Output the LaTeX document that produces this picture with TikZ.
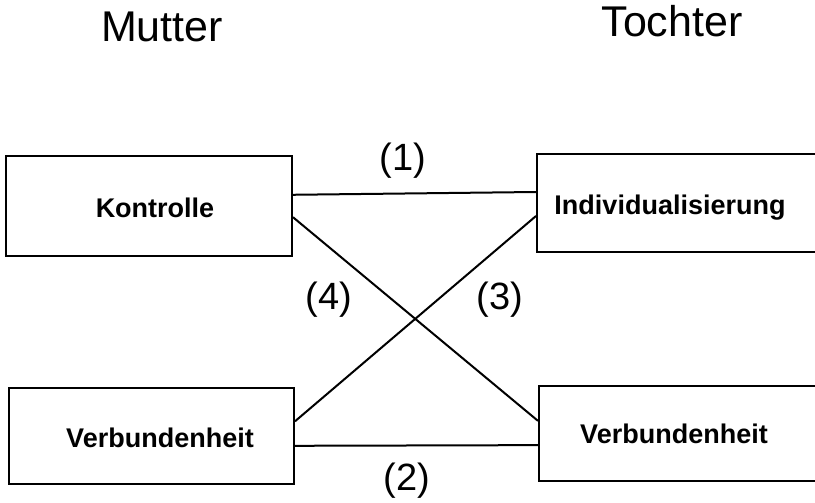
\documentclass[tikz,border=0pt]{standalone}
\usepackage{fontspec}
\setmainfont{Liberation Sans}
\usetikzlibrary{calc}
\tikzset{
  box/.style={draw, rectangle, line width=2pt, inner sep=0pt},
  boxlabel/.style={font=\fontsize{27}{30}\selectfont\bfseries, anchor=base, inner sep=0pt},
  title/.style={font=\fontsize{43}{46}\selectfont, anchor=base, inner sep=0pt},
  num/.style={font=\fontsize{38}{40}\selectfont, inner sep=0pt},
  link/.style={line width=2pt}
}
\begin{document}
\begin{tikzpicture}[x=1pt,y=-1pt]
\useasboundingbox (0,0) rectangle (815,503);
% titles
\node[title] (mutter) at (162,42) {Mutter};
\node[title] (tochter) at (672,37) {Tochter};
% boxes
\node[box, minimum width=286pt, minimum height=100pt] (k) at (149,206) {};
\node[box, minimum width=286pt, minimum height=98pt] (i) at (680,203) {};
\node[box, minimum width=285pt, minimum height=96pt] (vm) at (151.5,436) {};
\node[box, minimum width=286pt, minimum height=95pt] (vt) at (682,433.5) {};
% box texts
\node[boxlabel] (kt) at (155,217) {Kontrolle};
\node[boxlabel] (it) at (670,214) {Individualisierung};
\node[boxlabel] (vmt) at (160,447) {Verbundenheit};
\node[boxlabel] (vtt) at (674,443) {Verbundenheit};
% connectors
\draw[link] ($(k.north east)!0.39!(k.south east)$) -- ($(i.north west)!0.39!(i.south west)$);
\draw[link] ($(vm.north east)!0.60!(vm.south east)$) -- ($(vt.north west)!0.62!(vt.south west)$);
\draw[link] ($(k.north east)!0.61!(k.south east)$) -- ($(vt.north west)!0.37!(vt.south west)$);
\draw[link] ($(vm.north east)!0.35!(vm.south east)$) -- ($(i.north west)!0.63!(i.south west)$);
% labels
\node[num] (l1) at (403,161) {(1)};
\node[num] (l2) at (407,481) {(2)};
\node[num] (l3) at (500,300) {(3)};
\node[num] (l4) at (329,300) {(4)};
\end{tikzpicture}
\end{document}
